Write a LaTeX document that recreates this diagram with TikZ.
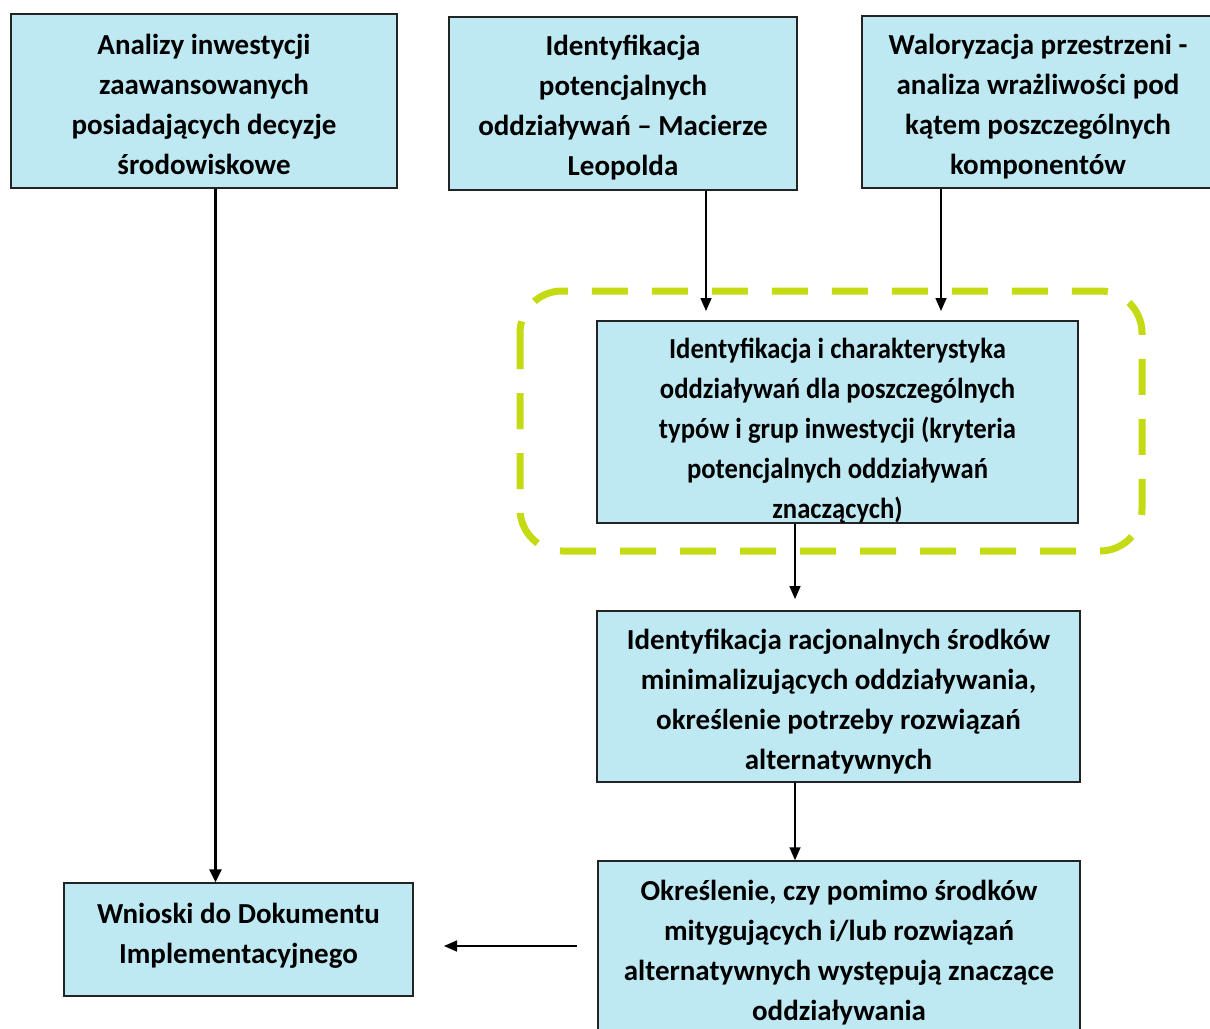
\documentclass[tikz,border=0pt]{standalone}
\usepackage{fontspec}
\setmainfont{Carlito}
\newfontfamily\condfont{Carlito}[FakeStretch=0.92]
\usetikzlibrary{arrows.meta}
\definecolor{boxfill}{RGB}{190,233,242}
\definecolor{boxline}{RGB}{35,35,35}
\definecolor{limeline}{RGB}{196,219,20}
\tikzset{
  x=1pt, y=-1pt,
  flowbox/.style={draw=boxline, line width=1.5pt, fill=boxfill, inner sep=0pt},
  boxtext/.style={inner sep=0pt, align=center, font=\fontsize{29}{40}\selectfont\bfseries},
  condtext/.style={boxtext, font=\fontsize{29}{40}\condfont\bfseries},
  arr/.style={draw=black, line width=1.6pt, -{Triangle[length=13pt,width=11pt]}},
  thickarr/.style={draw=black, line width=2.8pt, -{Triangle[length=13pt,width=12pt]}},
  groupbox/.style={draw=limeline, line width=7pt, dash pattern=on 36pt off 24pt,
    rounded corners=42pt}
}
\begin{document}
\begin{tikzpicture}
\useasboundingbox (0,0) rectangle (1210,1028);
\fill[white] (0,0) rectangle (1210,1028);

% dashed group frame
\draw[groupbox] (520,291) rectangle (1142,551);

% boxes
\node[flowbox, minimum width=386pt, minimum height=174pt] (A) at (204,101) {};
\node[flowbox, minimum width=348pt, minimum height=173pt] (B) at (623,103.5) {};
\node[flowbox, minimum width=352pt, minimum height=172pt] (C) at (1038,102) {};
\node[flowbox, minimum width=481pt, minimum height=202pt] (D) at (837.5,422) {};
\node[flowbox, minimum width=483pt, minimum height=171pt] (E) at (838.5,696.5) {};
\node[flowbox, minimum width=482pt, minimum height=182pt] (F) at (839,952) {};
\node[flowbox, minimum width=349pt, minimum height=113pt] (G) at (238.5,939.5) {};

% texts
\node[boxtext] (At) at (204,104)
  {Analizy inwestycji\\zaawansowanych\\posiadających decyzje\\środowiskowe};
\node[boxtext] (Bt) at (623,107.5)
  {Identyfikacja\\potencjalnych\\oddziaływań – Macierze\\Leopolda};
\node[boxtext] (Ct) at (1038,107)
  {Waloryzacja przestrzeni -\\analiza wrażliwości pod\\kątem poszczególnych\\komponentów};
\node[condtext] (Dt) at (837.5,431)
  {Identyfikacja i charakterystyka\\oddziaływań dla poszczególnych\\typów i grup inwestycji (kryteria\\potencjalnych oddziaływań\\znaczących)};
\node[boxtext] (Et) at (838.5,701.5)
  {Identyfikacja racjonalnych środków\\minimalizujących oddziaływania,\\określenie potrzeby rozwiązań\\alternatywnych};
\node[boxtext] (Ft) at (839,953)
  {Określenie, czy pomimo środków\\mitygujących i/lub rozwiązań\\alternatywnych występują znaczące\\oddziaływania};
\node[boxtext] (Gt) at (238.5,935.5)
  {Wnioski do Dokumentu\\Implementacyjnego};

% arrow end points
\coordinate (tB) at (706,311);
\coordinate (tC) at (941,311);
\coordinate (tD) at (795,599);
\coordinate (sF) at (577,946);
\coordinate (tG) at (444,946);

\draw[thickarr] ([xshift=-23pt]G.north |- A.south) -- ([xshift=-23pt]G.north);
\draw[arr] (B.south -| tB) -- (tB);
\draw[arr] (C.south -| tC) -- (tC);
\draw[arr] (D.south -| tD) -- (tD);
\draw[arr] (E.south -| tD) -- (F.north -| tD);
\draw[arr] (sF) -- (tG);
\end{tikzpicture}
\end{document}
